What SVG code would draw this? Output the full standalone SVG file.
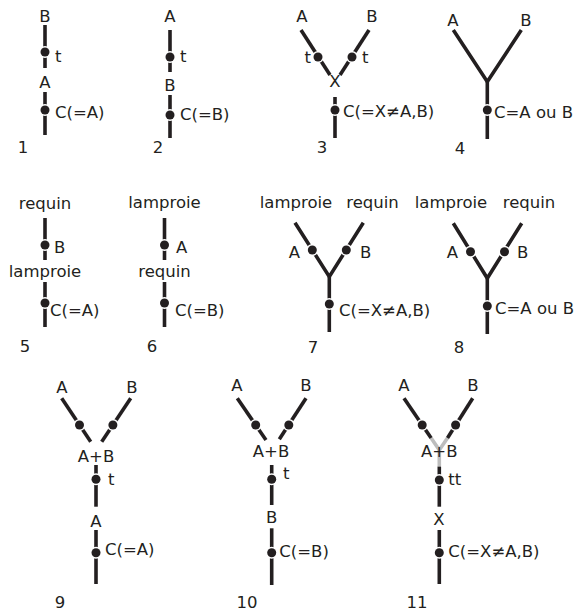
<svg xmlns="http://www.w3.org/2000/svg" width="576" height="614" viewBox="0 0 576 614">
<style>
.ln{stroke:#231f20;stroke-width:3.6;fill:none;stroke-linecap:butt;stroke-linejoin:miter}
.gr{stroke:#bdbdbd;stroke-width:3.6;fill:none;stroke-linecap:butt}
.dot{fill:#231f20;stroke:#fff;stroke-width:3;paint-order:stroke}
text{font-family:"DejaVu Sans",sans-serif;font-size:16.5px;fill:#231f20}
.m{text-anchor:middle}
.e{text-anchor:end}
</style>
<rect width="576" height="614" fill="#fff"/>
<g id="connectors">
  <!-- 1 -->
  <line class="ln" x1="45" y1="25" x2="45" y2="68"/>
  <line class="ln" x1="45" y1="92" x2="45" y2="135"/>
  <!-- 2 -->
  <line class="ln" x1="170" y1="30" x2="170" y2="72"/>
  <line class="ln" x1="170" y1="95" x2="170" y2="138"/>
  <!-- 3 -->
  <line class="ln" x1="301" y1="30" x2="330" y2="75"/>
  <line class="ln" x1="369" y1="30" x2="340" y2="75"/>
  <line class="ln" x1="335" y1="97" x2="335" y2="138"/>
  <!-- 4 -->
  <path class="ln" d="M453.3,30 L487.3,81.7 L521.3,30"/>
  <line class="ln" x1="487.3" y1="81.7" x2="487.3" y2="139"/>
  <!-- 5 -->
  <line class="ln" x1="45" y1="218" x2="45" y2="260"/>
  <line class="ln" x1="45" y1="282" x2="45" y2="327"/>
  <!-- 6 -->
  <line class="ln" x1="164.5" y1="218" x2="164.5" y2="260"/>
  <line class="ln" x1="164.5" y1="282" x2="164.5" y2="327"/>
  <!-- 7 -->
  <path class="ln" d="M295,222.7 L329.3,276.7 L363.3,222.7"/>
  <line class="ln" x1="329.3" y1="276.7" x2="329.3" y2="332"/>
  <!-- 8 -->
  <path class="ln" d="M453.3,223.3 L487.3,278.3 L521.7,223.3"/>
  <line class="ln" x1="487.3" y1="278.3" x2="487.3" y2="334"/>
  <!-- 9 -->
  <line class="ln" x1="61.7" y1="398.3" x2="90.7" y2="441.7"/>
  <line class="ln" x1="130.7" y1="398.3" x2="101.7" y2="441.7"/>
  <line class="ln" x1="96" y1="465" x2="96" y2="506.7"/>
  <line class="ln" x1="96" y1="530" x2="96" y2="584"/>
  <!-- 10 -->
  <line class="ln" x1="237.3" y1="398.3" x2="266" y2="440"/>
  <line class="ln" x1="306" y1="398.3" x2="279.3" y2="439.3"/>
  <line class="ln" x1="271.7" y1="465" x2="271.7" y2="505"/>
  <line class="ln" x1="271.7" y1="528.3" x2="271.7" y2="585"/>
  <!-- 11 -->
  <line class="gr" x1="431.1" y1="438" x2="439.3" y2="450"/>
  <line class="gr" x1="447.5" y1="438" x2="439.3" y2="450"/>
  <line class="gr" x1="439.3" y1="449" x2="439.3" y2="467"/>
  <line class="ln" x1="404" y1="398.3" x2="431.1" y2="438"/>
  <line class="ln" x1="472.7" y1="398.3" x2="447.5" y2="438"/>
  <line class="ln" x1="439.3" y1="466.7" x2="439.3" y2="506.7"/>
  <line class="ln" x1="439.3" y1="530" x2="439.3" y2="584"/>
</g>
<g id="p1">
  <circle class="dot" cx="45" cy="52" r="4.5"/>
  <circle class="dot" cx="45" cy="110" r="4.5"/>
  <text class="m" x="45" y="22">B</text>
  <text x="55" y="62">t</text>
  <text class="m" x="45" y="88">A</text>
  <text x="55" y="118">C(=A)</text>
  <text class="m" x="23" y="153">1</text>
</g>
<g id="p2">
  <circle class="dot" cx="170" cy="57" r="4.5"/>
  <circle class="dot" cx="170" cy="115" r="4.5"/>
  <text class="m" x="170" y="22">A</text>
  <text x="180" y="62">t</text>
  <text class="m" x="170" y="91">B</text>
  <text x="180" y="120">C(=B)</text>
  <text class="m" x="158" y="153">2</text>
</g>
<g id="p3">
  <circle class="dot" cx="318" cy="57" r="4.5"/>
  <circle class="dot" cx="352" cy="57" r="4.5"/>
  <circle class="dot" cx="335" cy="110" r="4.5"/>
  <text class="m" x="302" y="22">A</text>
  <text class="m" x="372" y="22">B</text>
  <text class="e" x="311" y="63">t</text>
  <text x="362" y="63">t</text>
  <text class="m" x="335" y="87">X</text>
  <text x="343" y="117">C(=X≠A,B)</text>
  <text class="m" x="322" y="153">3</text>
</g>
<g id="p4">
  <circle class="dot" cx="487.3" cy="110" r="4.5"/>
  <text class="m" x="453" y="26">A</text>
  <text class="m" x="526" y="26">B</text>
  <text x="494" y="118">C=A ou B</text>
  <text class="m" x="460" y="154">4</text>
</g>
<g id="p5">
  <circle class="dot" cx="45" cy="245" r="4.5"/>
  <circle class="dot" cx="45" cy="303" r="4.5"/>
  <text class="m" x="45" y="209">requin</text>
  <text x="54" y="253">B</text>
  <text class="m" x="45" y="277">lamproie</text>
  <text x="50" y="316">C(=A)</text>
  <text class="m" x="25" y="352">5</text>
</g>
<g id="p6">
  <circle class="dot" cx="164.5" cy="245" r="4.5"/>
  <circle class="dot" cx="164.5" cy="303" r="4.5"/>
  <text class="m" x="164.5" y="208">lamproie</text>
  <text x="176" y="253">A</text>
  <text class="m" x="164.5" y="277">requin</text>
  <text x="175" y="316">C(=B)</text>
  <text class="m" x="152" y="352">6</text>
</g>
<g id="p7">
  <circle class="dot" cx="312.3" cy="250" r="4.5"/>
  <circle class="dot" cx="346.3" cy="250" r="4.5"/>
  <circle class="dot" cx="329.3" cy="304" r="4.5"/>
  <text class="m" x="296" y="208">lamproie</text>
  <text class="m" x="372.5" y="208">requin</text>
  <text class="e" x="300" y="258">A</text>
  <text x="360" y="258">B</text>
  <text x="339" y="316">C(=X≠A,B)</text>
  <text class="m" x="313" y="353">7</text>
</g>
<g id="p8">
  <circle class="dot" cx="470.5" cy="251.7" r="4.5"/>
  <circle class="dot" cx="504.5" cy="251.7" r="4.5"/>
  <circle class="dot" cx="487.3" cy="306" r="4.5"/>
  <text class="m" x="451" y="208">lamproie</text>
  <text class="m" x="529" y="208">requin</text>
  <text class="e" x="458" y="258">A</text>
  <text x="517" y="258">B</text>
  <text x="495" y="314">C=A ou B</text>
  <text class="m" x="459" y="353">8</text>
</g>
<g id="p9">
  <circle class="dot" cx="79.5" cy="425" r="4.5"/>
  <circle class="dot" cx="112.9" cy="425" r="4.5"/>
  <circle class="dot" cx="96" cy="479.3" r="4.5"/>
  <circle class="dot" cx="96" cy="552.7" r="4.5"/>
  <text class="m" x="62" y="393">A</text>
  <text class="m" x="132" y="393">B</text>
  <text class="m" x="96" y="461.7">A+B</text>
  <text x="108" y="485">t</text>
  <text class="m" x="96" y="526.7">A</text>
  <text x="105" y="555">C(=A)</text>
  <text class="m" x="60" y="608">9</text>
</g>
<g id="p10">
  <circle class="dot" cx="255.7" cy="425" r="4.5"/>
  <circle class="dot" cx="288.8" cy="425" r="4.5"/>
  <circle class="dot" cx="271.7" cy="479.3" r="4.5"/>
  <circle class="dot" cx="271.7" cy="552.7" r="4.5"/>
  <text class="m" x="237" y="391">A</text>
  <text class="m" x="306" y="391">B</text>
  <text class="m" x="271" y="456.7">A+B</text>
  <text x="283" y="479">t</text>
  <text class="m" x="271.7" y="523.3">B</text>
  <text x="279.3" y="556.7">C(=B)</text>
  <text class="m" x="247" y="608">10</text>
</g>
<g id="p11">
  <circle class="dot" cx="422.2" cy="425" r="4.5"/>
  <circle class="dot" cx="455.6" cy="425" r="4.5"/>
  <circle class="dot" cx="439.3" cy="480" r="4.5"/>
  <circle class="dot" cx="439.3" cy="552.7" r="4.5"/>
  <text class="m" x="404" y="391">A</text>
  <text class="m" x="473" y="391">B</text>
  <text class="m" x="439.3" y="456.7">A+B</text>
  <text x="448.3" y="485">tt</text>
  <text class="m" x="439" y="525">X</text>
  <text x="448.3" y="556.7">C(=X≠A,B)</text>
  <text class="m" x="417" y="608">11</text>
</g>
</svg>
